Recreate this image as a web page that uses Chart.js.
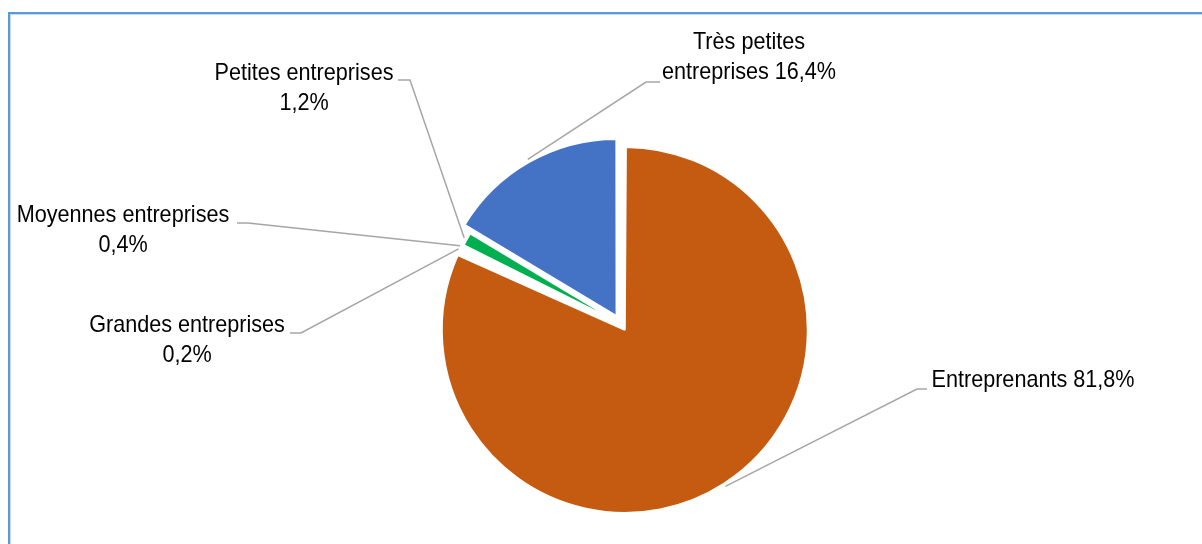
<!DOCTYPE html>
<html lang="fr">
<head>
<meta charset="utf-8">
<title>Répartition des entreprises par taille</title>
<script src="https://cdn.jsdelivr.net/npm/chart.js@4.4.1/dist/chart.umd.min.js"></script>
<style>
  html, body { margin: 0; padding: 0; background: #fff; }
  #wrap { position: relative; width: 1202px; height: 544px; overflow: hidden; }
  #frame {
    position: absolute; left: 8px; top: 12px; width: 1300px; height: 700px;
    border-left: 2px solid #5B9BD5; border-top: 2px solid #5B9BD5;
    box-shadow: inset 1px 1px 0 #C5DCF0;
    box-sizing: border-box;
  }
  #chart { position: absolute; left: 0; top: 0; }
</style>
</head>
<body>
<div id="wrap">
  <div id="frame"></div>
  <canvas id="chart" width="1202" height="544"></canvas>
</div>
<script>
// Company categories, clockwise from 12 o'clock
const categories = [
  'Entreprenants',
  'Grandes entreprises',
  'Moyennes entreprises',
  'Petites entreprises',
  'Très petites entreprises'
];
// Share of companies (%)
const shares = [81.8, 0.2, 0.4, 1.2, 16.4];

const sliceColors = ['#C55A11', '#FFFFFF', '#FFFFFF', '#00B050', '#4472C4'];
const sliceOffsets = [28, 0, 0, 0, 36];

const pct = v => v.toFixed(1).replace('.', ',') + '%';

// How each label breaks into lines
function labelLines(i) {
  const name = categories[i], v = pct(shares[i]);
  if (i === 0) return [name + ' ' + v];
  if (i === 4) return ['Très petites', 'entreprises ' + v];
  return [name, v];
}

// Label placement: text centre x, first line middle y, leader elbow and tick end
const labelLayout = [
  { cx: 1033, y: 380, elbow: [917, 389], tick: [927, 389] },
  { cx: 187,  y: 325, elbow: [301, 333], tick: [290, 333] },
  { cx: 123,  y: 215, elbow: [248, 223], tick: [237, 223] },
  { cx: 304,  y: 73,  elbow: [410, 80],  tick: [398, 80] },
  { cx: 749,  y: 42,  elbow: [646, 82],  tick: [660, 82] }
];

const leaderLabels = {
  id: 'leaderLabels',
  afterDatasetsDraw(chart, args, opts) {
    const ctx = chart.ctx;
    const meta = chart.getDatasetMeta(0);
    ctx.save();
    meta.data.forEach((arc, i) => {
      const p = arc.getProps(['x', 'y', 'startAngle', 'endAngle', 'outerRadius', 'circumference'], true);
      const off = (arc.options.offset || 0) / 4;
      const fix = 1 - Math.sin(Math.min(Math.PI, p.circumference));
      const mid = (p.startAngle + p.endAngle) / 2;
      const d = off + p.outerRadius + off * fix + opts.gap;
      const ex = p.x + Math.cos(mid) * d;
      const ey = p.y + Math.sin(mid) * d;
      const L = labelLayout[i];
      ctx.strokeStyle = opts.lineColor;
      ctx.lineWidth = 1.5;
      ctx.beginPath();
      ctx.moveTo(ex, ey);
      ctx.lineTo(L.elbow[0], L.elbow[1]);
      ctx.lineTo(L.tick[0], L.tick[1]);
      ctx.stroke();

      ctx.fillStyle = opts.color;
      ctx.font = opts.font;
      ctx.textAlign = 'center';
      ctx.textBaseline = 'middle';
      labelLines(i).forEach((t, k) => {
        ctx.save();
        ctx.translate(L.cx, L.y + k * opts.lineHeight);
        ctx.scale(opts.squeeze, 1);
        ctx.fillText(t, 0, 0);
        ctx.restore();
      });
    });
    ctx.restore();
  }
};

new Chart(document.getElementById('chart'), {
  type: 'pie',
  data: {
    labels: categories,
    datasets: [{
      data: shares,
      backgroundColor: sliceColors,
      borderColor: '#FFFFFF',
      borderWidth: 2,
      offset: sliceOffsets
    }]
  },
  options: {
    responsive: false,
    animation: false,
    radius: 176,
    layout: { padding: { left: 40, right: 0, top: 104, bottom: 0 } },
    plugins: {
      legend: { display: false },
      tooltip: { enabled: false },
      leaderLabels: {
        gap: 3,
        lineColor: '#A6A6A6',
        color: '#000000',
        font: "24px 'Liberation Sans Narrow', 'Liberation Sans', Arial, sans-serif",
        lineHeight: 30,
        squeeze: 0.9
      }
    }
  },
  plugins: [leaderLabels]
});
</script>
</body>
</html>
